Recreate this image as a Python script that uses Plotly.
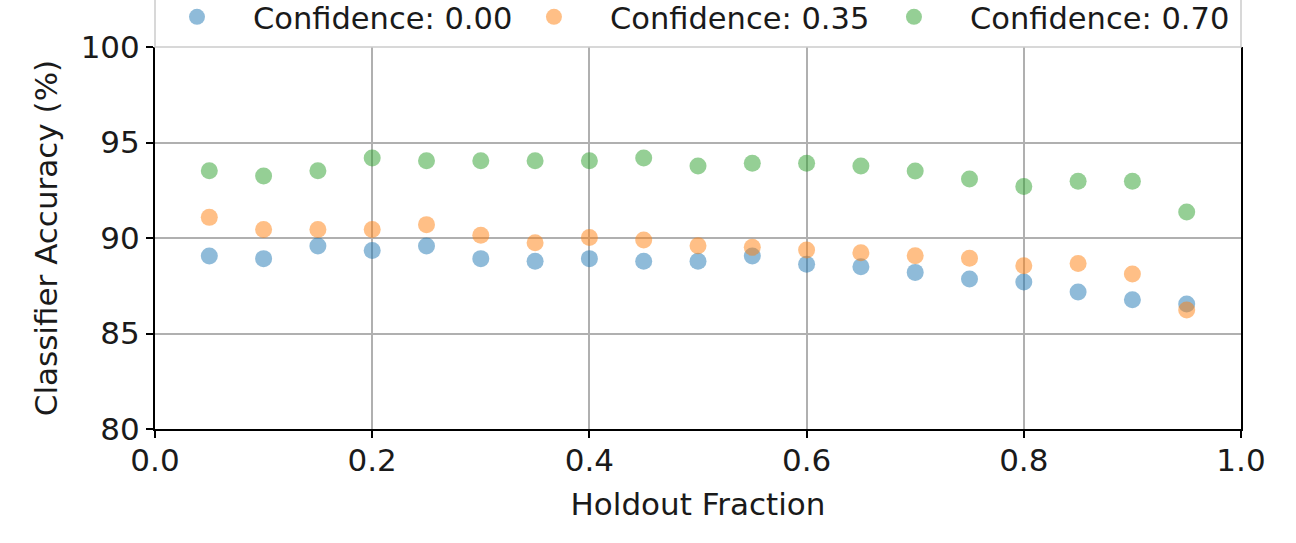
import plotly.graph_objects as go

holdout = [0.05, 0.10, 0.15, 0.20, 0.25, 0.30, 0.35, 0.40, 0.45, 0.50,
           0.55, 0.60, 0.65, 0.70, 0.75, 0.80, 0.85, 0.90, 0.95]
acc_conf_000 = [89.06, 88.92, 89.58, 89.34, 89.58, 88.92, 88.78, 88.92, 88.78, 88.78,
                89.06, 88.62, 88.50, 88.20, 87.85, 87.70, 87.17, 86.77, 86.54]
acc_conf_035 = [91.08, 90.45, 90.45, 90.45, 90.70, 90.14, 89.75, 90.03, 89.90, 89.60,
                89.51, 89.37, 89.23, 89.07, 88.94, 88.55, 88.67, 88.12, 86.23]
acc_conf_070 = [93.52, 93.25, 93.52, 94.19, 94.05, 94.05, 94.05, 94.05, 94.19, 93.77,
                93.91, 93.91, 93.77, 93.51, 93.09, 92.70, 92.97, 92.97, 91.36]
series_names = ["Confidence: 0.00", "Confidence: 0.35", "Confidence: 0.70"]
series_colors = ["#1f77b4", "#ff7f0e", "#2ca02c"]
x_ticks = [0.0, 0.2, 0.4, 0.6, 0.8, 1.0]
y_ticks = [80, 85, 90, 95, 100]

FONT = "DejaVu Sans"
TXT = "#1a1a1a"
legend_ids = ["legend", "legend2", "legend3"]
legend_x = [-0.0129, 0.3158, 0.6473]

fig = go.Figure()
for name, vals, col, lid in zip(series_names, [acc_conf_000, acc_conf_035, acc_conf_070],
                                series_colors, legend_ids):
    fig.add_trace(go.Scatter(
        x=holdout, y=vals, mode="markers", name=name, legend=lid,
        marker=dict(color=col, size=17, opacity=0.5, line=dict(width=0)),
    ))

# legend frame (top cut off by the canvas edge, as in the reference)
fig.add_shape(type="rect", xref="paper", yref="paper", x0=0, x1=1, y0=1.0, y1=1.3,
              line=dict(color="#cccccc", width=1.5), fillcolor="rgba(255,255,255,0)", layer="above")

legend_common = dict(
    orientation="h", xanchor="left", y=1.0785, yanchor="middle",
    bgcolor="rgba(0,0,0,0)", borderwidth=0,
    font=dict(family=FONT, size=30.5, color=TXT),
    itemwidth=102, itemsizing="trace",
)

fig.update_layout(
    width=1296, height=543,
    paper_bgcolor="white", plot_bgcolor="white",
    margin=dict(l=155, r=55, t=47, b=114, autoexpand=False),
    font=dict(family=FONT, size=31, color=TXT),
    showlegend=True,
    legend=dict(x=legend_x[0], **legend_common),
    legend2=dict(x=legend_x[1], **legend_common),
    legend3=dict(x=legend_x[2], **legend_common),
    xaxis=dict(
        range=[0, 1], tickvals=x_ticks, tickformat=".1f",
        showgrid=True, gridcolor="#b0b0b0", gridwidth=1.5,
        showline=True, linecolor="black", linewidth=2, mirror=False,
        ticks="outside", ticklen=7, tickwidth=1.5, tickcolor="black",
        ticklabelstandoff=-4,
        zeroline=False,
        title=dict(text="Holdout Fraction", standoff=16, font=dict(family=FONT, size=31, color=TXT)),
    ),
    yaxis=dict(
        range=[80, 100], tickvals=y_ticks,
        showgrid=True, gridcolor="#b0b0b0", gridwidth=1.5,
        showline=True, linecolor="black", linewidth=2, mirror=True,
        ticks="outside", ticklen=7, tickwidth=1.5, tickcolor="black",
        zeroline=False,
        title=dict(text="Classifier Accuracy (%)", standoff=14, font=dict(family=FONT, size=31, color=TXT)),
    ),
)

fig.write_html("out.html", config={"displayModeBar": False},
               post_script="document.body.style.margin='0';")
